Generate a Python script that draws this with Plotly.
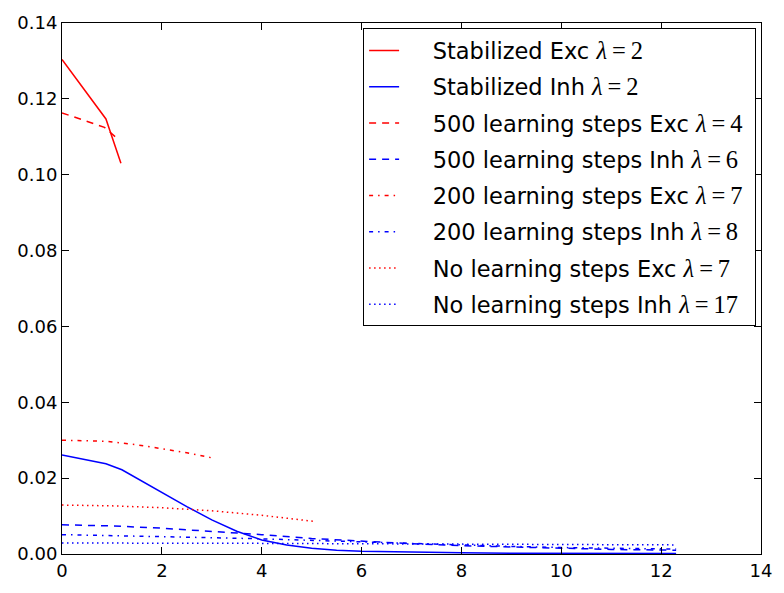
import plotly.graph_objects as go

# Stabilized network
stab_exc_x = [0.0, 0.88, 1.18]
stab_exc_y = [0.1304, 0.1147, 0.1030]
stab_inh_x = [0.0, 0.88, 1.2, 1.6, 2.0, 2.5, 3.0, 3.5, 4.0, 4.5, 5.0, 5.5, 6.0, 7.0, 8.0, 9.0, 10.0, 11.0, 12.3]
stab_inh_y = [0.0261, 0.0238, 0.0222, 0.0192, 0.0162, 0.0125, 0.0090, 0.0060, 0.0037, 0.0024, 0.0015,
              0.0010, 0.0007, 0.0004, 0.0003, 0.0002, 0.0002, 0.0001, 0.0001]

# 500 learning steps
l500_exc_x = [0.0, 0.85, 1.11]
l500_exc_y = [0.1163, 0.1125, 0.1095]
l500_inh_x = [0, 1, 2, 3, 4, 5, 6, 7, 8, 9, 10, 11, 12.3]
l500_inh_y = [0.0077, 0.0074, 0.0068, 0.0060, 0.0051, 0.0041, 0.0033, 0.0027, 0.0022, 0.0018, 0.0015, 0.0012, 0.0010]

# 200 learning steps
l200_exc_x = [0.0, 0.9, 1.5, 2.0, 2.5, 2.98]
l200_exc_y = [0.0300, 0.0297, 0.0288, 0.0278, 0.0267, 0.0254]
l200_inh_x = [0, 1, 2, 3, 4, 5, 6, 7, 8, 9, 10, 11, 12.3]
l200_inh_y = [0.0051, 0.0049, 0.0046, 0.0043, 0.0040, 0.0036, 0.0031, 0.0027, 0.0023, 0.0020, 0.0017, 0.0015, 0.0013]

# No learning
l0_exc_x = [0, 1, 2, 3, 4, 5.05]
l0_exc_y = [0.0129, 0.0127, 0.0122, 0.0114, 0.0102, 0.0086]
l0_inh_x = [0, 2, 4, 6, 8, 10, 12.3]
l0_inh_y = [0.0029, 0.0029, 0.0028, 0.0027, 0.0026, 0.0025, 0.0024]

x_ticks = [0, 2, 4, 6, 8, 10, 12, 14]
y_ticks = [0.00, 0.02, 0.04, 0.06, 0.08, 0.10, 0.12, 0.14]


def lam(v):
    # math-style lambda label in a serif face
    return ("<span style='font-family:\"Liberation Serif\", \"DejaVu Serif\", serif;font-size:24.5px'>"
            "<i>λ</i>\u2009=\u2009" + str(v) + "</span>")


RED = "#ff0000"
BLUE = "#0000ff"
DASH = "7px,6px"
DASHDOT = "4px,5px,1.5px,5px"
DOT = "1.5px,3.5px"
PAD = "\u00a0\u00a0\u00a0\u00a0"
TAIL = "\u00a0"

series = [
    (stab_exc_x, stab_exc_y, RED, "solid", "Stabilized Exc " + lam(2)),
    (stab_inh_x, stab_inh_y, BLUE, "solid", "Stabilized Inh " + lam(2)),
    (l500_exc_x, l500_exc_y, RED, DASH, "500 learning steps Exc " + lam(4)),
    (l500_inh_x, l500_inh_y, BLUE, DASH, "500 learning steps Inh " + lam(6)),
    (l200_exc_x, l200_exc_y, RED, DASHDOT, "200 learning steps Exc " + lam(7)),
    (l200_inh_x, l200_inh_y, BLUE, DASHDOT, "200 learning steps Inh " + lam(8)),
    (l0_exc_x, l0_exc_y, RED, DOT, "No learning steps Exc " + lam(7)),
    (l0_inh_x, l0_inh_y, BLUE, DOT, "No learning steps Inh " + lam(17)),
]

fig = go.Figure()
for i, (xs, ys, col, dash, name) in enumerate(series):
    fig.add_trace(go.Scatter(
        x=xs, y=ys, mode="lines", name=PAD + name + TAIL, legendgroup=f"g{i}",
        line=dict(color=col, width=1.5, dash=dash),
    ))

axis_common = dict(
    showgrid=False, zeroline=False, showline=True, linecolor="black", linewidth=1,
    mirror="allticks", ticks="inside", ticklen=7, tickwidth=1, tickcolor="black",
    tickfont=dict(family="DejaVu Sans", size=18, color="black"),
)

fig.update_xaxes(range=[0, 14], tickvals=x_ticks, ticktext=[str(v) for v in x_ticks], **axis_common)
fig.update_yaxes(range=[0, 0.14], tickvals=y_ticks, ticktext=[f"{v:.2f}" for v in y_ticks], **axis_common)

fig.update_layout(
    width=784, height=593,
    margin=dict(l=62, r=12, t=18, b=22),
    paper_bgcolor="white", plot_bgcolor="white",
    font=dict(family="DejaVu Sans", color="black"),
    legend=dict(
        x=0.993, xanchor="right", y=0.99, yanchor="top",
        bgcolor="white", bordercolor="black", borderwidth=1,
        font=dict(family="DejaVu Sans", size=22.5, color="black"),
        traceorder="grouped", tracegroupgap=4, itemwidth=30,
    ),
)

fig.write_html("out.html")
